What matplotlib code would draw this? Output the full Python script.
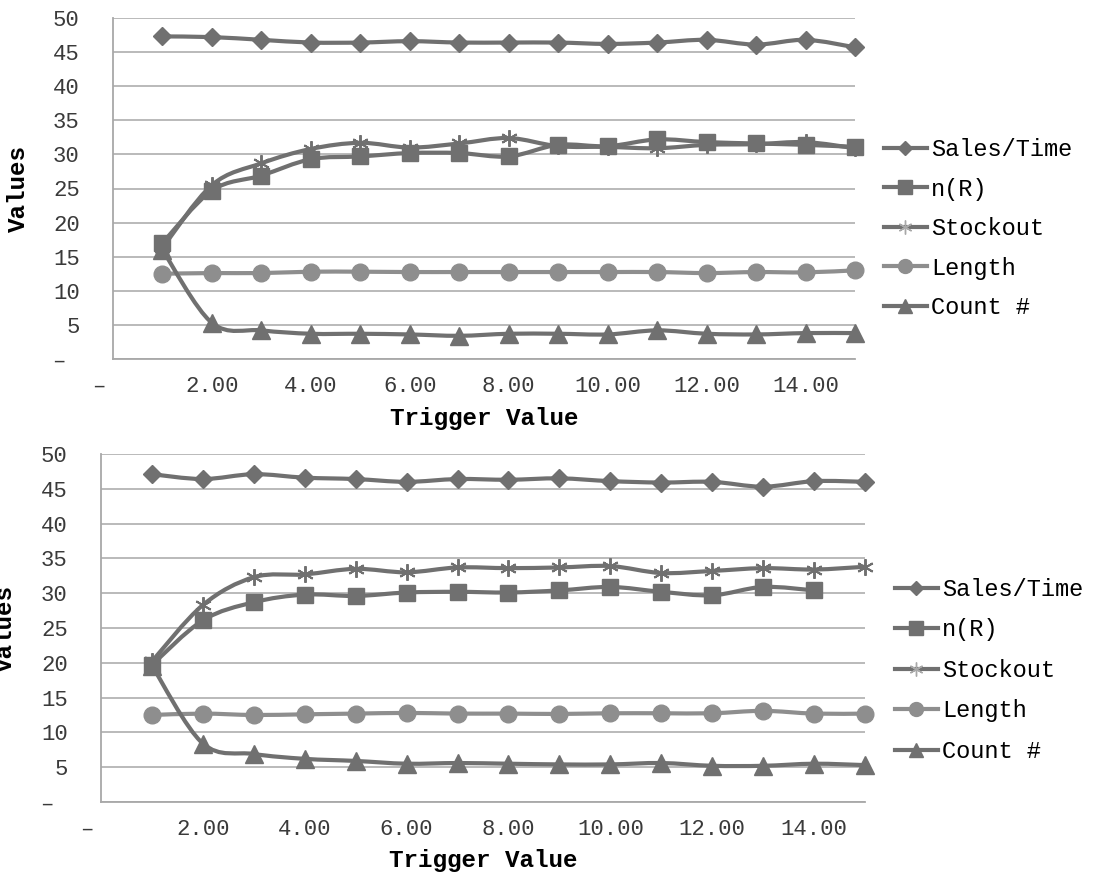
import numpy as np
import matplotlib
matplotlib.use("Agg")
import matplotlib.pyplot as plt
from matplotlib.path import Path
from matplotlib.patches import PathPatch
from matplotlib.lines import Line2D

plt.rcParams['font.family'] = ['Liberation Mono', 'DejaVu Sans Mono']

# datos
trigger = [1, 2, 3, 4, 5, 6, 7, 8, 9, 10, 11, 12, 13, 14, 15]
series_names = ['Sales/Time', 'n(R)', 'Stockout', 'Length', 'Count #']

top_sales = [47.3, 47.2, 46.8, 46.4, 46.4, 46.6, 46.4, 46.4, 46.4, 46.2, 46.4, 46.8, 46.1, 46.8, 45.7]
top_nr = [17.0, 24.7, 26.9, 29.3, 29.7, 30.2, 30.2, 29.7, 31.4, 31.2, 32.2, 31.8, 31.6, 31.4, 31.1]
top_stock = [16.3, 25.5, 28.7, 30.8, 31.7, 31.0, 31.6, 32.4, 31.2, 31.1, 30.9, 31.4, 31.5, 31.8, 30.9]
top_len = [12.5, 12.6, 12.6, 12.8, 12.8, 12.75, 12.75, 12.75, 12.75, 12.75, 12.75, 12.6, 12.75, 12.7, 13.0]
top_count = [16.0, 5.3, 4.2, 3.7, 3.7, 3.6, 3.4, 3.7, 3.7, 3.6, 4.2, 3.7, 3.6, 3.8, 3.8]

bot_sales = [47.1, 46.4, 47.1, 46.6, 46.4, 46.0, 46.4, 46.3, 46.5, 46.1, 45.9, 46.0, 45.3, 46.1, 46.0]
bot_nr = [19.7, 26.1, 28.7, 29.8, 29.6, 30.1, 30.2, 30.1, 30.4, 30.9, 30.2, 29.7, 30.9, 30.4, np.nan]
bot_stock = [20.2, 28.3, 32.3, 32.7, 33.5, 33.0, 33.7, 33.6, 33.7, 33.9, 32.9, 33.2, 33.6, 33.4, 33.8]
bot_len = [12.5, 12.7, 12.5, 12.6, 12.7, 12.8, 12.7, 12.7, 12.65, 12.75, 12.75, 12.75, 13.1, 12.7, 12.7]
bot_count = [19.6, 8.4, 6.9, 6.2, 5.9, 5.5, 5.6, 5.5, 5.4, 5.4, 5.6, 5.2, 5.2, 5.5, 5.3]

x_ticks = [0, 2, 4, 6, 8, 10, 12, 14]
x_ticklabels = ['–  ', '2.00', '4.00', '6.00', '8.00', '10.00', '12.00', '14.00']
y_ticks = [0, 5, 10, 15, 20, 25, 30, 35, 40, 45, 50]
y_ticklabels = ['– '] + [str(v) for v in y_ticks[1:]]

dark = '#707070'
light = '#8e8e8e'
grid_c = '#b4b4b4'

# estilo de cada serie: color, marcador, tamano en grafico, tamano en leyenda
styles = [
    (dark, 'D', 9.5, 7.0),
    (dark, 's', 12.0, 9.5),
    (dark, (6, 2, 0), 12.0, 10.0),
    (light, 'o', 12.0, 10.0),
    (dark, '^', 12.5, 10.5),
]


def smooth_path(x, y):
    # curva suavizada tipo Excel (bezier con tangentes catmull-rom)
    x = np.asarray(x, float)
    y = np.asarray(y, float)
    ok = ~np.isnan(y)
    p = np.column_stack([x[ok], y[ok]])
    verts = [p[0]]
    codes = [Path.MOVETO]
    n = len(p)
    for i in range(n - 1):
        p0 = p[i - 1] if i > 0 else p[i]
        p3 = p[i + 2] if i + 2 < n else p[i + 1]
        c1 = p[i] + (p[i + 1] - p0) / 6.0
        c2 = p[i + 1] - (p3 - p[i]) / 6.0
        verts += [c1, c2, p[i + 1]]
        codes += [Path.CURVE4] * 3
    return Path(verts, codes)


def draw_panel(ax, data, xlab_y, ylab_x, leg_anchor, leg_space):
    for vals, (col, mk, ms, _) in zip(data, styles):
        patch = PathPatch(smooth_path(trigger, vals), fill=False, edgecolor=col,
                          lw=3.0, capstyle='round', joinstyle='round', clip_on=False)
        ax.add_patch(patch)
        mew = 1.4 if isinstance(mk, tuple) else 1.0
        ax.plot(trigger, vals, linestyle='none', marker=mk, ms=ms, color=col,
                mec=col, mew=mew, clip_on=False)

    ax.set_xlim(0, 15)
    ax.set_ylim(0, 50)
    ax.set_xticks(x_ticks)
    ax.set_xticklabels(x_ticklabels)
    ax.set_yticks(y_ticks)
    ax.set_yticklabels(y_ticklabels)
    ax.tick_params(axis='both', length=0, labelsize=16, labelcolor='#3a3a3a')
    ax.tick_params(axis='y', pad=24)
    ax.tick_params(axis='x', pad=12)
    ax.yaxis.grid(True, color=grid_c, lw=1.3)
    ax.set_axisbelow(True)
    for s in ['top', 'right']:
        ax.spines[s].set_visible(False)
    for s in ['left', 'bottom']:
        ax.spines[s].set_color('#a8a8a8')
        ax.spines[s].set_linewidth(1.3)

    ax.set_xlabel('Trigger Value', fontsize=17.5, fontweight='bold', va='center')
    ax.xaxis.set_label_coords(0.5, xlab_y)
    ax.set_ylabel('Values', fontsize=17.5, fontweight='bold', va='center')
    ax.yaxis.set_label_coords(ylab_x, 0.5)

    handles = []
    for col, mk, _, lms in styles:
        mcol = '#a8a8a8' if isinstance(mk, tuple) else col
        handles.append(Line2D([], [], color=col, lw=3.0, marker=mk, ms=lms,
                              mfc=mcol, mec=mcol, mew=1.0))
    ax.legend(handles, series_names, loc='upper left', bbox_to_anchor=leg_anchor,
              frameon=False, fontsize=17, handlelength=1.8, handletextpad=0.2,
              labelspacing=leg_space, borderaxespad=0, borderpad=0)


fig = plt.figure(figsize=(10.96, 8.77), dpi=100)
W, H = 1096.0, 877.0

# ejes superiores
ax1 = fig.add_axes([113 / W, 1 - 359 / H, 742 / W, 341 / H])
draw_panel(ax1, [top_sales, top_nr, top_stock, top_len, top_count],
           xlab_y=(359 - 419) / 341.0, ylab_x=(18 - 113) / 742.0,
           leg_anchor=((884 - 113) / 742.0, (359 - 138) / 341.0), leg_space=0.7)

# ejes inferiores
ax2 = fig.add_axes([101 / W, 1 - 802 / H, 764 / W, 348 / H])
draw_panel(ax2, [bot_sales, bot_nr, bot_stock, bot_len, bot_count],
           xlab_y=(802 - 860) / 348.0, ylab_x=(5 - 101) / 764.0,
           leg_anchor=((895 - 101) / 764.0, (802 - 578) / 348.0), leg_space=0.74)

fig.savefig('out.png', dpi=100, facecolor='white')
